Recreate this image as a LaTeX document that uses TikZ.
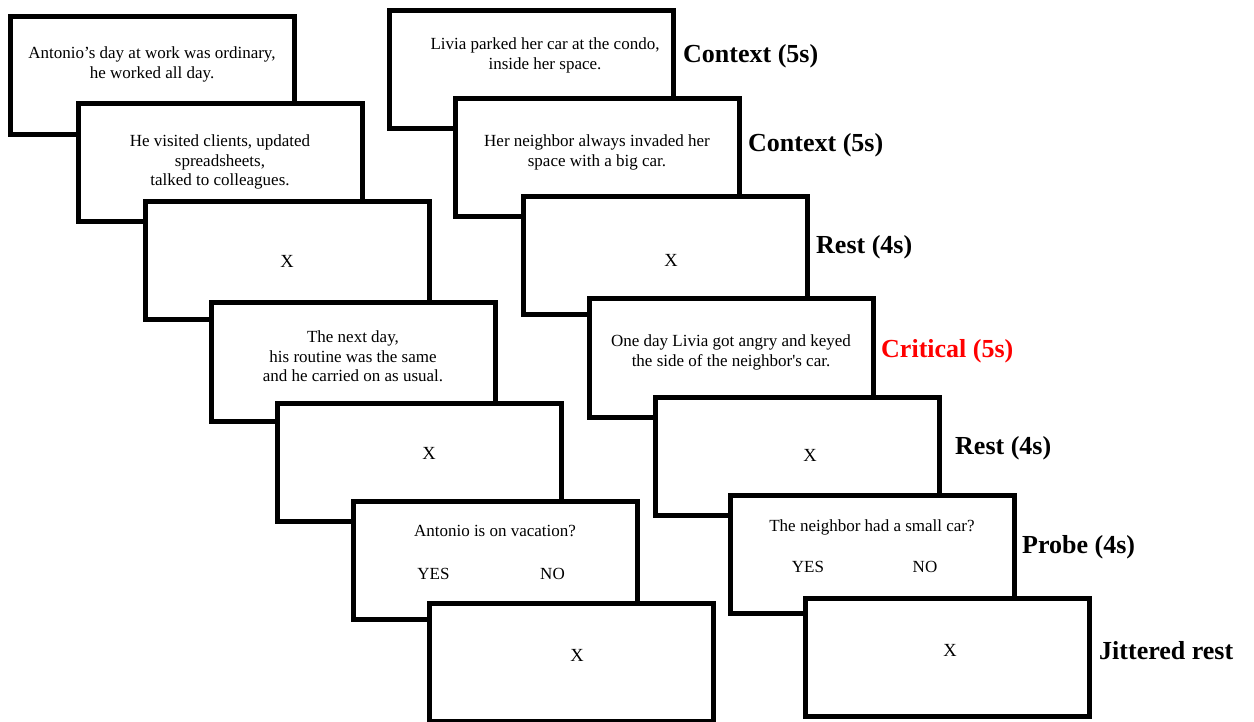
\documentclass[tikz,border=0pt]{standalone}
\usepackage{fontspec}
\setmainfont{Liberation Serif}
\usepackage{xcolor}
\usetikzlibrary{positioning}
\definecolor{critred}{RGB}{255, 0, 0}
\tikzstyle{slide} = [rectangle, draw=black, line width=5pt, fill=white, minimum width=284pt, minimum height=118pt, inner sep=0pt, outer sep=0pt]
\tikzstyle{story} = [draw=none, fill=none, align=center, anchor=north, inner sep=0pt, font=\fontsize{17}{19.5}\selectfont]
\tikzstyle{fixcross} = [draw=none, fill=none, inner sep=0pt, font=\fontsize{18.5}{22}\selectfont]
\tikzstyle{answer} = [draw=none, fill=none, anchor=base, inner sep=0pt, font=\fontsize{17}{20}\selectfont]
\tikzstyle{phase} = [draw=none, fill=none, anchor=west, inner sep=0pt, text height=18pt, text depth=5pt, font=\bfseries\fontsize{26}{30}\selectfont]

\begin{document}
\begin{tikzpicture}[x=1pt, y=-1pt]
\useasboundingbox (0,0) rectangle (1254,722);

% neutral story (left) =============================
\node[slide, anchor=north west] (l1) at (10,17) {};
\node[story, below=30pt of l1.north] (l1t) {Antonio's day at work was ordinary,\\he worked all day.};
\node[slide, below right=-31pt and -216pt of l1] (l2) {};
\node[story, below=31pt of l2.north] (l2t) {He visited clients, updated\\spreadsheets,\\talked to colleagues.};
\node[slide, below right=-20pt and -217pt of l2] (l3) {};
\node[fixcross] (l3x) at (l3.center) {X};
\node[slide, below right=-17pt and -218pt of l3] (l4) {};
\node[story, below=28pt of l4.north] (l4t) {The next day,\\his routine was the same\\and he carried on as usual.};
\node[slide, below right=-18pt and -218pt of l4] (l5) {};
\node[fixcross] (l5x) at ([shift={(10,-9)}]l5.center) {X};
\node[slide, below right=-20pt and -208pt of l5] (l6) {};
\node[story, below=24pt of l6.north] (l6t) {Antonio is on vacation?};
\node[answer] (l6y) at ([shift={(-61.5,19)}]l6.center) {YES};
\node[answer] (l6n) at ([shift={(57.5,19)}]l6.center) {NO};
\node[slide, below right=-16pt and -208pt of l6] (l7) {};
\node[fixcross] (l7x) at ([shift={(6,-7)}]l7.center) {X};

% critical story (right) =============================
\node[slide, anchor=north west] (r1) at (389,11) {};
\node[story, below=27pt of r1.north, xshift=14pt] (r1t) {Livia parked her car at the condo,\\inside her space.};
\node[slide, below right=-30pt and -218pt of r1] (r2) {};
\node[story, below=36pt of r2.north] (r2t) {Her neighbor always invaded her\\space with a big car.};
\node[slide, below right=-20pt and -216pt of r2] (r3) {};
\node[fixcross] (r3x) at ([shift={(6,4)}]r3.center) {X};
\node[slide, below right=-16pt and -218pt of r3] (r4) {};
\node[story, below=36pt of r4.north] (r4t) {One day Livia got angry and keyed\\the side of the neighbor\textquotesingle s car.};
\node[slide, below right=-20pt and -218pt of r4] (r5) {};
\node[fixcross] (r5x) at ([shift={(13,-1)}]r5.center) {X};
\node[slide, below right=-20pt and -209pt of r5] (r6) {};
\node[story, below=25pt of r6.north] (r6t) {The neighbor had a small car?};
\node[answer] (r6y) at ([shift={(-64,18)}]r6.center) {YES};
\node[answer] (r6n) at ([shift={(53,18)}]r6.center) {NO};
\node[slide, below right=-15pt and -209pt of r6] (r7) {};
\node[fixcross] (r7x) at ([shift={(3,-7)}]r7.center) {X};

% phase labels
\node[phase] (ctx1) at ([shift={(10,-13.5)}]r1.east) {Context (5s)};
\node[phase] (ctx2) at ([shift={(9,-13)}]r2.east) {Context (5s)};
\node[phase] (rest1) at ([shift={(9,-9)}]r3.east) {Rest (4s)};
\node[phase, text=critred] (crit) at ([shift={(8,-7)}]r4.east) {Critical\ (5s)};
\node[phase] (rest2) at ([shift={(16,-8)}]r5.east) {Rest (4s)};
\node[phase] (probe) at ([shift={(8,-7)}]r6.east) {Probe (4s)};
\node[phase] (jitter) at ([shift={(10,-4)}]r7.east) {Jittered rest};

\end{tikzpicture}
\end{document}
